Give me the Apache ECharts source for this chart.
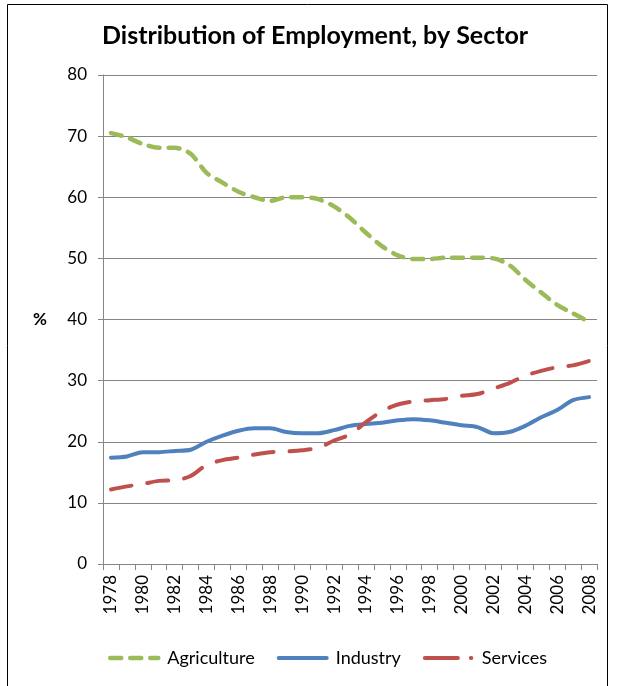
<!DOCTYPE html>
<html>
<head>
<meta charset="utf-8">
<script src="https://cdn.jsdelivr.net/npm/echarts@6/dist/echarts.min.js"></script>
<style>
  html, body { margin: 0; padding: 0; background: #fff; }
  #chart { width: 618px; height: 686px; }
</style>
</head>
<body>
<div id="chart"></div>
<script>
// Years on the category axis
const years = ['1978','1979','1980','1981','1982','1983','1984','1985','1986','1987',
  '1988','1989','1990','1991','1992','1993','1994','1995','1996','1997',
  '1998','1999','2000','2001','2002','2003','2004','2005','2006','2007','2008'];

// Share of employment by sector, %
const agriculture = [70.5, 69.8, 68.7, 68.1, 68.1, 67.1, 64.0, 62.4, 60.9, 60.0,
  59.4, 60.0, 60.0, 59.7, 58.5, 56.6, 54.2, 52.0, 50.5, 49.9,
  49.9, 50.1, 50.1, 50.1, 50.0, 48.9, 46.5, 44.4, 42.4, 41.0, 39.6];
const industry = [17.4, 17.6, 18.3, 18.3, 18.5, 18.7, 20.0, 21.0, 21.8, 22.2,
  22.2, 21.6, 21.4, 21.4, 21.9, 22.6, 22.9, 23.1, 23.5, 23.7,
  23.5, 23.1, 22.7, 22.4, 21.4, 21.6, 22.6, 24.0, 25.2, 26.8, 27.3];
const services = [12.2, 12.7, 13.1, 13.6, 13.7, 14.4, 16.2, 17.0, 17.4, 17.9,
  18.3, 18.4, 18.6, 19.0, 20.2, 21.2, 23.2, 25.0, 26.1, 26.6,
  26.8, 27.0, 27.5, 27.8, 28.7, 29.6, 30.8, 31.6, 32.2, 32.5, 33.2];

// Y axis range and step
const yMin = 0, yMax = 80, yStep = 10;

const font = 'Lato, "Open Sans", sans-serif';
const gridGray = '#868686';
const colors = { agriculture: '#9BBB59', industry: '#4F81BD', services: '#C0504D' };

const chart = echarts.init(document.getElementById('chart'), null, { renderer: 'canvas' });

chart.setOption({
  backgroundColor: '#fff',
  animation: false,
  textStyle: { fontFamily: font, color: '#000' },
  graphic: [{
    type: 'rect',
    shape: { x: 7.5, y: 4.5, width: 600, height: 700 },
    style: { fill: 'none', stroke: '#000', lineWidth: 1 },
    silent: true
  }],
  title: {
    text: 'Distribution of Employment, by Sector',
    left: 97,
    top: 18,
    textStyle: { fontFamily: font, fontWeight: 'bold', fontSize: 25, color: '#000' }
  },
  legend: {
    bottom: 14,
    left: 103,
    itemWidth: 48,
    itemHeight: 10,
    itemGap: 22,
    itemStyle: { opacity: 0 },
    textStyle: { fontFamily: font, fontSize: 18, color: '#000', padding: [0, 0, 0, 4] },
    data: [
      { name: 'Agriculture', lineStyle: { width: 4.5, type: [11, 9], cap: 'round', color: colors.agriculture } },
      { name: 'Industry', lineStyle: { width: 4, type: 'solid', cap: 'round', color: colors.industry } },
      { name: 'Services', lineStyle: { width: 4, type: [33, 13, 0.5, 20], cap: 'round', color: colors.services } }
    ]
  },
  grid: { left: 103, right: 21, top: 75, bottom: 122, containLabel: false },
  xAxis: {
    type: 'category',
    data: years,
    boundaryGap: true,
    axisLine: { lineStyle: { color: gridGray, width: 1 } },
    axisTick: { show: true, interval: 0, length: 6, lineStyle: { color: gridGray } },
    axisLabel: {
      interval: 1,
      rotate: 90,
      margin: 11,
      fontSize: 17,
      color: '#000',
      fontFamily: font
    },
    splitLine: { show: false }
  },
  yAxis: {
    type: 'value',
    min: yMin,
    max: yMax,
    interval: yStep,
    name: '%',
    nameLocation: 'middle',
    nameRotate: 0,
    nameGap: 56,
    nameTextStyle: { fontFamily: font, fontWeight: 'bold', fontSize: 17, color: '#000' },
    axisLine: { show: true, lineStyle: { color: gridGray, width: 1 } },
    axisTick: { show: true, length: 5, lineStyle: { color: gridGray } },
    axisLabel: { margin: 16, fontSize: 17, color: '#000', fontFamily: font },
    splitLine: { show: true, lineStyle: { color: gridGray, width: 1 } }
  },
  series: [
    {
      name: 'Agriculture',
      type: 'line',
      data: agriculture,
      smooth: 0.3,
      symbol: 'none',
      color: colors.agriculture,
      lineStyle: { width: 4.5, type: [11, 9], cap: 'round', color: colors.agriculture }
    },
    {
      name: 'Industry',
      type: 'line',
      data: industry,
      smooth: 0.3,
      symbol: 'none',
      color: colors.industry,
      lineStyle: { width: 4, type: 'solid', cap: 'round', color: colors.industry }
    },
    {
      name: 'Services',
      type: 'line',
      data: services,
      smooth: 0.3,
      symbol: 'none',
      color: colors.services,
      lineStyle: { width: 4, type: [21, 16], cap: 'round', color: colors.services }
    }
  ]
});
</script>
</body>
</html>
